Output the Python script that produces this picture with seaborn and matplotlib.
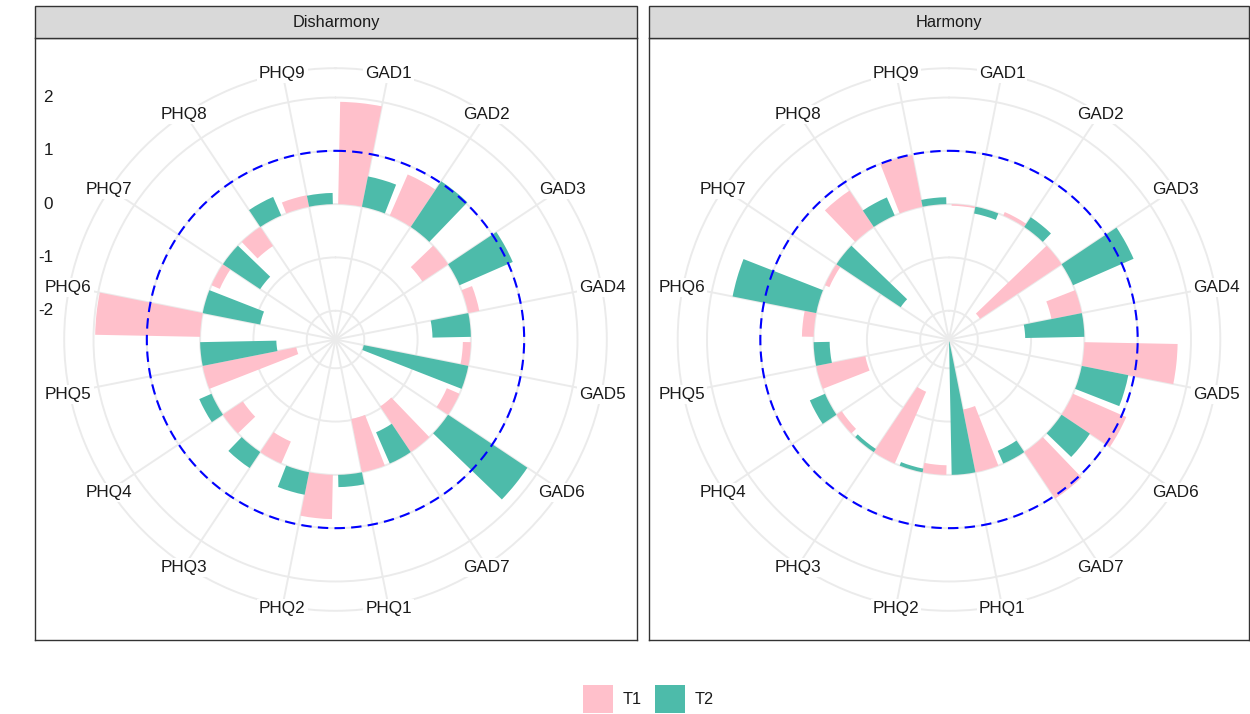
import numpy as np
import pandas as pd
import matplotlib
matplotlib.use("Agg")
import matplotlib.pyplot as plt
from matplotlib.patches import Rectangle
import seaborn as sns

# ---------------- data ----------------
items = ["GAD1", "GAD2", "GAD3", "GAD4", "GAD5", "GAD6", "GAD7",
         "PHQ1", "PHQ2", "PHQ3", "PHQ4", "PHQ5", "PHQ6", "PHQ7", "PHQ8", "PHQ9"]
groups = ["Disharmony", "Harmony"]
times = ["T1", "T2"]

dis_t1 = [1.92, 0.84, -0.58, 0.21, -0.15, -0.26, -1.03,
          -1.02, 0.83, -0.45, -0.45, -1.79, 1.97, -0.17, -0.43, 0.22]
dis_t2 = [0.58, 1.03, 1.09, -0.72, -2.00, 1.79, -0.64,
          0.23, 0.43, 0.36, 0.25, -1.43, -1.10, -0.84, 0.38, 0.21]
har_t1 = [-0.03, 0.07, -1.84, -0.58, 1.75, 1.09, 1.05,
          -1.20, -0.18, -1.47, -0.12, -0.94, 0.22, -0.09, 0.82, 0.99]
har_t2 = [-0.13, 0.22, 1.24, -1.11, 0.89, 0.64, -0.26,
          -2.50, -0.07, -0.07, 0.31, -0.30, 1.60, -1.45, 0.37, 0.13]

r_ticks = [-2, -1, 0, 1, 2]
ref_line = 1

colors = {"T1": "#FFC0CB", "T2": "#4DBBAA"}

# ---------------- style ----------------
sns.set_theme(style="white")
plt.rcParams["font.family"] = ["Liberation Sans", "DejaVu Sans"]

W, H = 1250, 714
fig = plt.figure(figsize=(W / 100, H / 100), dpi=100)


def fr(x0, y0, x1, y1):
    """pixel box (top-left origin) -> figure fraction rect"""
    return [x0 / W, 1 - y1 / H, (x1 - x0) / W, (y1 - y0) / H]


n = len(items)
slot = 2 * np.pi / n
angles = (np.arange(n) + 0.5) * slot

RMIN, ROUT = -2.54, 2.55
PX_PER_UNIT = 53.3
TOP, STRIP_B, BOTTOM = 6, 38, 640

panels = [("Disharmony", dis_t1, dis_t2, 35, 637, 335.5),
          ("Harmony", har_t1, har_t2, 649, 1249, 949)]

for k, (name, t1, t2, x0, x1, cx) in enumerate(panels):
    frame = fig.add_axes(fr(x0, STRIP_B, x1, BOTTOM))
    frame.set_xticks([])
    frame.set_yticks([])
    frame.set_facecolor("white")
    for s in frame.spines.values():
        s.set_color("#333333")
        s.set_linewidth(1.0)

    fig.add_artist(Rectangle((x0 / W, 1 - STRIP_B / H), (x1 - x0) / W,
                             (STRIP_B - TOP) / H, transform=fig.transFigure,
                             facecolor="#D9D9D9", edgecolor="#333333",
                             linewidth=1.0))
    fig.text((x0 + x1) / 2 / W, 1 - (TOP + STRIP_B) / 2 / H, name,
             ha="center", va="center", fontsize=11.8, color="#1A1A1A")

    cy = 339.5
    R = (ROUT - RMIN) * PX_PER_UNIT
    ax = fig.add_axes(fr(cx - R, cy - R, cx + R, cy + R), projection="polar")

    df = pd.DataFrame({
        "item": items * 2,
        "angle": np.tile(angles, 2),
        "time": np.repeat(times, n),
        "value": np.r_[t1, t2],
    })
    sns.barplot(data=df, x="angle", y="value", hue="time", hue_order=times,
                palette=colors, native_scale=True, width=0.9, dodge=True,
                saturation=1, errorbar=None, linewidth=0, edgecolor="none",
                legend=False, ax=ax, zorder=2)

    ax.set_theta_zero_location("N")
    ax.set_theta_direction(-1)
    ax.set_ylim(RMIN, ROUT)
    ax.set_xticks(angles)
    ax.set_yticks(r_ticks)
    ax.set_xticklabels([])
    ax.set_yticklabels([])
    ax.set_xlabel("")
    ax.set_ylabel("")
    ax.tick_params(length=0, pad=0)
    ax.grid(True, color="#EBEBEB", linewidth=1.4)
    ax.set_axisbelow(True)
    ax.spines["polar"].set_color("#EBEBEB")
    ax.spines["polar"].set_linewidth(1.4)
    ax.patch.set_alpha(0)

    th = np.linspace(0, 2 * np.pi, 600)
    ax.plot(th, np.full_like(th, ref_line), color="blue", lw=1.5,
            ls=(0, (5, 3)), zorder=3)

    for a, lab in zip(angles, items):
        ax.text(a, 2.57, lab, ha="center", va="center_baseline", fontsize=12.3,
                color="#1A1A1A", zorder=5, clip_on=False,
                bbox=dict(boxstyle="square,pad=0.12", fc="white", ec="none"))

    if k == 0:
        for v in r_ticks:
            disp = ax.transData.transform((0, v))
            fig.text(53 / W, disp[1] / H, str(v), ha="right", va="center",
                     fontsize=12.3, color="#1A1A1A")

# ---------------- legend ----------------
leg = [("T1", 583, 623), ("T2", 655, 695)]
for lab, kx, tx in leg:
    fig.add_artist(Rectangle((kx / W, 1 - 713 / H), 30 / W, 28 / H,
                             transform=fig.transFigure,
                             facecolor=colors[lab], edgecolor="none"))
    fig.text(tx / W, 1 - 700 / H, lab, ha="left", va="center",
             fontsize=11.7, color="#1A1A1A")

fig.savefig("out.png", dpi=100)
